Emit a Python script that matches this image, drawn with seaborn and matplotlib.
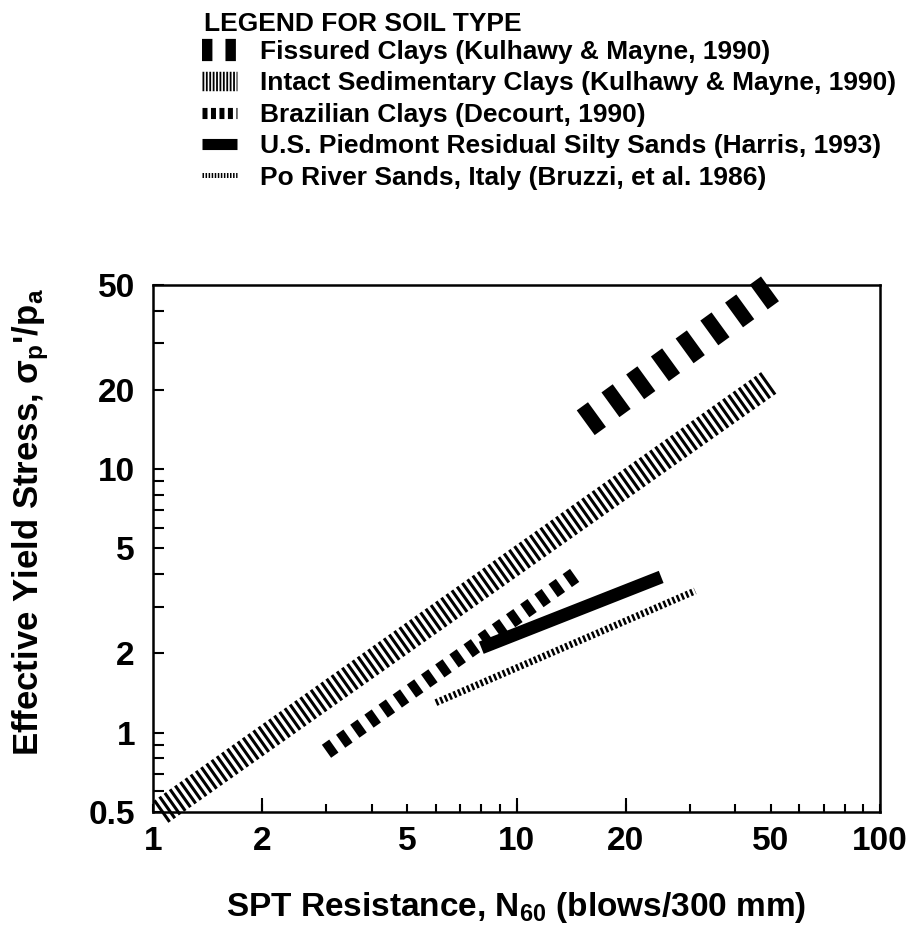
import numpy as np
import pandas as pd
import matplotlib
matplotlib.use("Agg")
import matplotlib.pyplot as plt
from matplotlib.lines import Line2D
from matplotlib.ticker import FixedLocator, FixedFormatter, NullFormatter
import seaborn as sns

# end points of each trend line (N60, sigma_p'/pa)
soil_types = [
    "Fissured Clays (Kulhawy & Mayne, 1990)",
    "Intact Sedimentary Clays (Kulhawy & Mayne, 1990)",
    "Brazilian Clays (Decourt, 1990)",
    "U.S. Piedmont Residual Silty Sands (Harris, 1993)",
    "Po River Sands, Italy (Bruzzi, et al. 1986)",
]
n60_fissured = [15.5, 51]
stress_fissured = [15.0, 49.5]
n60_intact = [1.05, 50]
stress_intact = [0.50, 21.5]
n60_brazil = [3.0, 15]
stress_brazil = [0.85, 4.1]
n60_piedmont = [8.0, 25]
stress_piedmont = [2.1, 3.9]
n60_po = [6.0, 31]
stress_po = [1.3, 3.45]

x_ticklabels = ["1", "2", "5", "10", "20", "50", "100"]
y_ticklabels = ["0.5", "1", "2", "5", "10", "20", "50"]

sns.set_style("white")
plt.rcParams["font.family"] = ["Liberation Sans", "DejaVu Sans"]
plt.rcParams["font.weight"] = "bold"
plt.rcParams["mathtext.default"] = "regular"
plt.rcParams["lines.scale_dashes"] = False
for key in ["text.color", "axes.labelcolor", "xtick.color", "ytick.color", "axes.edgecolor"]:
    plt.rcParams[key] = "black"

fig = plt.figure(figsize=(9.11, 9.34), dpi=100)
ax = fig.add_axes([0.168, 0.1306, 0.798, 0.5643])

# line styles: width, dash pattern (points)
styles = [
    (22.0, (10.0, 12.0)),
    (19.0, (2.2, 2.4)),
    (11.5, (6.5, 6.0)),
    (9.4, None),
    (5.0, (1.8, 1.7)),
]
series = [
    (n60_fissured, stress_fissured),
    (n60_intact, stress_intact),
    (n60_brazil, stress_brazil),
    (n60_piedmont, stress_piedmont),
    (n60_po, stress_po),
]
for name, (xs, ys), (lw, dash) in zip(soil_types, series, styles):
    df = pd.DataFrame({"N60": xs, "stress": ys})
    sns.lineplot(data=df, x="N60", y="stress", ax=ax, color="black", lw=lw,
                 legend=False, estimator=None, sort=False)
    line = ax.lines[-1]
    line.set_clip_on(False)
    line.set_solid_capstyle("butt")
    line.set_dash_capstyle("butt")
    if dash is not None:
        line.set_dashes(dash)

ax.set_xscale("log")
ax.set_yscale("log")
ax.set_xlim(1, 100)
ax.set_ylim(0.5, 50)

# x ticks: labelled ones, plus longer marks at 2, 10, 20
x_all = [1, 2, 3, 4, 5, 6, 7, 8, 9, 10, 20, 30, 40, 50, 60, 70, 80, 90, 100]
ax.xaxis.set_major_locator(FixedLocator(x_all))
ax.xaxis.set_major_formatter(FixedFormatter([str(v) if str(v) in x_ticklabels else "" for v in x_all]))
ax.xaxis.set_minor_locator(FixedLocator([2, 10, 20]))
ax.xaxis.set_minor_formatter(NullFormatter())
ax.xaxis.remove_overlapping_locs = False

y_all = [0.5, 0.6, 0.7, 0.8, 0.9, 1, 2, 3, 4, 5, 6, 7, 8, 9, 10, 20, 30, 40, 50]
ax.yaxis.set_major_locator(FixedLocator(y_all))
ax.yaxis.set_major_formatter(FixedFormatter([("%g" % v) if ("%g" % v) in y_ticklabels else "" for v in y_all]))
ax.yaxis.set_minor_locator(FixedLocator([]))

ax.tick_params(axis="x", which="major", direction="in", length=6, width=1.5,
               labelsize=24, pad=10, bottom=True, top=False)
ax.tick_params(axis="x", which="minor", direction="in", length=10, width=1.5,
               bottom=True, top=False)
ax.tick_params(axis="y", which="major", direction="in", length=8, width=1.5,
               labelsize=24, pad=13, left=True, right=False)

for s in ax.spines.values():
    s.set_linewidth(1.8)
    s.set_color("black")

ax.set_xlabel(r"SPT Resistance, $N_{60}$ (blows/300 mm)", fontsize=24,
              fontweight="bold", labelpad=24)
ax.set_ylabel(r"Effective Yield Stress, $\sigma_p$'/$p_a$", fontsize=25,
              fontweight="bold")
ax.yaxis.set_label_coords(-0.14, 0.55)

# legend title as plain text, rows below it
fig.text(0.224, 1 - 24 / 934, "LEGEND FOR SOIL TYPE", fontsize=19,
         fontweight="bold", ha="left", va="center")

# legend handles drawn at their own (smaller) sizes
handles = [
    Line2D([], [], color="black", lw=16, dashes=(7.5, 9.4), dash_capstyle="butt"),
    Line2D([], [], color="black", lw=14, dashes=(1.3, 1.15), dash_capstyle="butt"),
    Line2D([], [], color="black", lw=8, dashes=(3.6, 2.5), dash_capstyle="butt"),
    Line2D([], [], color="black", lw=8, solid_capstyle="butt"),
    Line2D([], [], color="black", lw=3.6, dashes=(1.1, 1.1), dash_capstyle="butt"),
]
fig.legend(handles=handles, labels=soil_types,
           loc="upper left", bbox_to_anchor=(0.222, 1 - 40 / 934), frameon=False,
           borderpad=0, borderaxespad=0,
           prop={"size": 19, "weight": "bold"},
           handlelength=1.3, handletextpad=0.9, labelspacing=0.28)

fig.savefig("out.png", dpi=100)
